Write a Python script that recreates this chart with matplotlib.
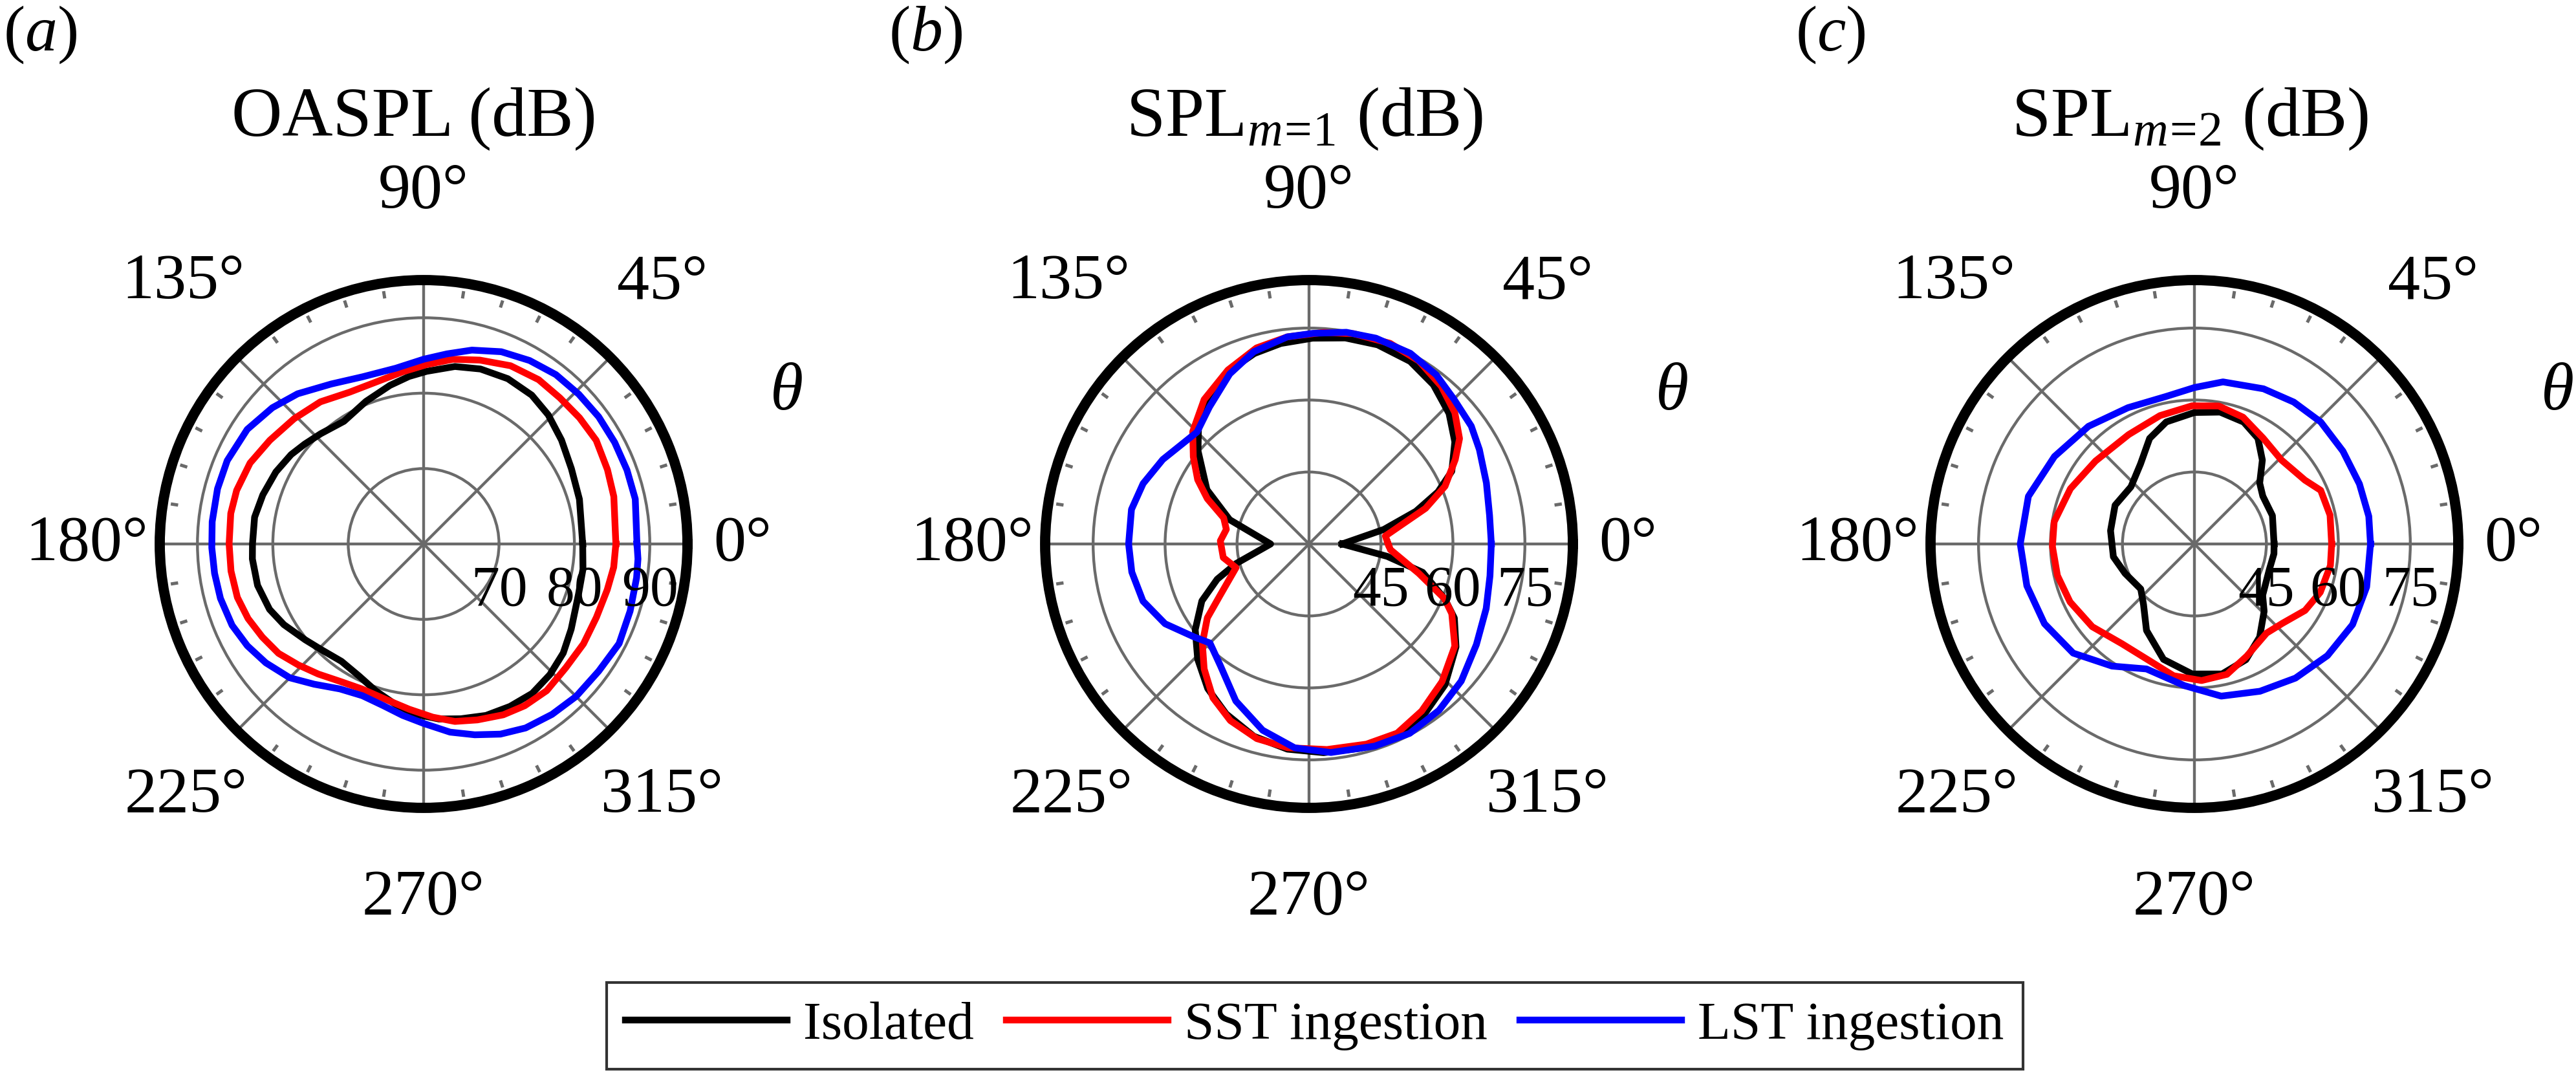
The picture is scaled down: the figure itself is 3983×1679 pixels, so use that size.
import numpy as np
import matplotlib.pyplot as plt

plt.rcParams['font.family'] = ['Liberation Serif', 'DejaVu Serif']
plt.rcParams['mathtext.fontset'] = 'custom'
plt.rcParams['mathtext.rm'] = 'Liberation Serif'
plt.rcParams['mathtext.it'] = 'Liberation Serif:italic'

# ---- (a) OASPL (dB): angle in degrees, level in dB ----
a_iso_th = [0, 16, 27, 37, 46, 54, 63, 72, 80, 89, 95, 102, 112, 123, 133, 140, 146, 154, 163, 171,
            180, 185, 194, 203, 210, 219, 226, 235, 244, 252, 260, 267, 275, 282, 290, 298, 306, 314,
            322, 330, 342, 351]
a_iso_db = [81.1, 81.5, 82.0, 82.9, 83.8, 84.4, 84.6, 84.4, 83.9, 82.9, 82.3, 81.5, 80.4, 79.4, 80.0,
            80.6, 81.2, 81.8, 82.3, 82.7, 82.7, 82.8, 82.7, 82.2, 81.4, 80.2, 79.5, 79.0, 79.5, 80.5,
            81.6, 82.6, 83.3, 83.7, 84.2, 84.4, 84.5, 84.1, 83.5, 82.6, 81.6, 81.4]
a_sst_th = [0, 14, 22, 31, 39, 47, 55, 64, 73, 81, 89, 97, 106, 116, 126, 136, 146, 155, 164, 171,
            180, 188, 196, 203, 210, 217, 224, 231, 239, 247, 256, 265, 273, 280, 287, 295, 302, 310,
            319, 328, 337, 346, 353]
a_sst_db = [85.5, 86.0, 86.3, 86.7, 86.6, 86.5, 86.6, 86.3, 85.5, 84.8, 83.8, 83.0, 82.4, 82.4, 83.3,
            83.9, 84.6, 85.4, 85.8, 85.9, 85.8, 85.8, 85.7, 85.3, 84.7, 84.1, 83.1, 82.2, 81.3, 80.9,
            81.2, 82.0, 83.0, 83.9, 84.4, 85.0, 85.3, 85.4, 85.0, 85.0, 84.9, 85.1, 85.4]
a_lst_th = [0, 12, 20, 28, 36, 44, 52, 60, 68, 76, 83, 90, 99, 110, 120, 130, 138, 147, 157, 165,
            174, 181, 188, 195, 203, 210, 217, 225, 232, 240, 248, 256, 263, 270, 278, 285, 292, 299,
            307, 315, 324, 333, 342, 351, 356]
a_lst_db = [88.3, 88.7, 88.7, 88.7, 88.7, 88.6, 88.5, 88.1, 87.5, 86.5, 85.4, 84.5, 83.6, 83.6, 84.5,
            86.0, 87.0, 87.9, 88.3, 88.3, 88.2, 88.1, 88.0, 87.9, 87.6, 87.0, 86.2, 85.1, 83.6, 82.2,
            81.7, 82.1, 82.9, 83.8, 85.2, 86.2, 87.2, 87.9, 88.3, 88.6, 88.7, 89.1, 88.8, 88.6, 88.5]

# ---- (b) SPL m=1 (dB) ----
b_iso_th = [0, 11, 17, 22, 27, 35, 43, 52, 61, 71, 80, 89, 98, 106, 115, 123, 132, 140, 152, 163,
            180, 195, 201, 208, 217, 226, 235, 244, 254, 264, 274, 284, 294, 304, 314, 325, 333, 338,
            346, 351]
b_iso_db = [36.9, 45.9, 53.3, 59.0, 63.4, 67.1, 69.9, 72.1, 73.5, 73.9, 73.6, 72.9, 72.2, 71.3, 69.7,
            67.5, 64.4, 60.2, 54.1, 47.3, 38.0, 45.7, 50.5, 55.3, 59.7, 63.4, 66.8, 69.4, 71.7, 73.0,
            73.6, 73.9, 74.1, 72.9, 70.8, 67.4, 64.0, 60.5, 54.4, 46.5]
b_sst_th = [0, 6, 17, 23, 30, 35, 42, 50, 59, 68, 78, 86, 96, 105, 115, 126, 136, 143, 150, 156,
            163, 170, 178, 189, 198, 210, 216, 223, 230, 238, 246, 255, 264, 275, 286, 295, 304, 314,
            325, 334, 338, 345, 356]
b_sst_db = [46.5, 46.0, 55.4, 60.8, 65.2, 68.3, 70.9, 72.9, 74.5, 75.1, 74.8, 74.2, 73.4, 72.3, 70.0,
            67.2, 63.7, 60.2, 56.8, 53.2, 48.6, 47.5, 48.5, 48.1, 46.0, 51.4, 56.2, 60.4, 64.0, 67.8,
            70.3, 72.0, 72.7, 73.0, 73.4, 73.5, 72.0, 69.9, 67.1, 63.1, 60.5, 53.7, 47.0]
b_lst_th = [0, 9, 19, 29, 36, 45, 53, 62, 72, 80, 89, 96, 106, 115, 126, 135, 142, 150, 160, 169,
            180, 189, 199, 209, 219, 225, 234, 245, 256, 266, 276, 288, 298, 308, 318, 329, 340, 350]
b_lst_db = [68.0, 68.1, 69.1, 70.6, 71.8, 72.7, 74.1, 75.0, 75.1, 74.8, 73.9, 73.4, 71.7, 69.1, 65.3,
            63.0, 63.7, 65.2, 66.8, 67.7, 67.6, 67.4, 66.6, 64.3, 60.8, 59.2, 61.4, 66.1, 70.0, 72.6,
            73.7, 74.3, 74.7, 74.0, 72.7, 70.7, 69.3, 68.3]

# ---- (c) SPL m=2 (dB) ----
c_iso_th = [0, 20, 35, 43, 51, 59, 68, 79, 90, 103, 113, 124, 138, 154, 171, 189, 203, 220, 230,
            241, 255, 269, 282, 294, 305, 316, 323, 341, 353]
c_iso_db = [46.6, 47.3, 47.4, 48.6, 52.5, 55.7, 57.4, 58.0, 57.4, 56.1, 53.9, 50.1, 47.8, 48.4, 47.7,
            47.1, 45.7, 44.6, 46.5, 50.6, 54.9, 57.1, 57.7, 56.4, 53.7, 50.2, 47.8, 46.5, 46.7]
c_sst_th = [0, 12, 23, 30, 44, 57, 69, 80, 91, 105, 121, 140, 156, 171, 181, 193, 205, 219, 234,
            248, 261, 273, 284, 295, 309, 318, 329, 339, 351]
c_sst_db = [58.6, 58.9, 58.6, 56.6, 55.2, 56.3, 58.3, 59.2, 58.8, 57.7, 56.6, 56.9, 58.3, 59.6, 59.6,
            59.3, 58.6, 57.4, 55.7, 56.0, 57.8, 58.5, 58.0, 55.8, 53.9, 54.7, 56.9, 58.1, 58.7]
c_lst_th = [0, 9, 20, 32, 44, 55, 66, 80, 90, 101, 116, 132, 148, 164, 180, 194, 208, 222, 236,
            249, 266, 280, 294, 307, 320, 333, 346]
c_lst_db = [66.7, 66.8, 66.6, 66.5, 66.6, 66.1, 65.4, 64.3, 62.6, 61.3, 61.6, 63.0, 64.4, 66.0, 66.3,
            66.0, 65.4, 64.0, 60.7, 57.9, 59.6, 62.2, 63.6, 65.0, 66.2, 67.0, 67.0]

panel_tags = ['a', 'b', 'c']
panel_titles = ['OASPL (dB)', r'SPL$_{m\!=\!1}$ (dB)', r'SPL$_{m\!=\!2}$ (dB)']
r_limits = [(60, 95), (30, 85), (30, 85)]
r_ticks = [[70, 80, 90], [45, 60, 75], [45, 60, 75]]
theta_ticks = [0, 45, 90, 135, 180, 225, 270, 315]
series_names = ['Isolated', 'SST ingestion', 'LST ingestion']
series_colors = ['black', 'red', 'blue']
panel_data = [
    [(a_iso_th, a_iso_db), (a_sst_th, a_sst_db), (a_lst_th, a_lst_db)],
    [(b_iso_th, b_iso_db), (b_sst_th, b_sst_db), (b_lst_th, b_lst_db)],
    [(c_iso_th, c_iso_db), (c_sst_th, c_sst_db), (c_lst_th, c_lst_db)],
]

grid_gray = '#6a6a6a'
W, H = 3983, 1679
fig = plt.figure(figsize=(W / 300, H / 300), dpi=300)

centers_x = [655, 2024, 3393]
center_y = 841
R = 408
tag_x = [5, 1374, 2776]
title_x = [640, 2017, 3386]
# centre of each angle label, in units of the outer radius
label_off = {0: (1.21, 0), 45: (0.905, 0.99), 90: (0, 1.335), 135: (-0.91, 0.99),
             180: (-1.277, 0), 225: (-0.90, -0.955), 270: (0, -1.34), 315: (0.905, -0.955)}

handles = []
for i in range(3):
    cx = centers_x[i]
    ax = fig.add_axes([(cx - R) / W, (H - center_y - R) / H, 2 * R / W, 2 * R / H],
                      projection='polar')
    for j, (th, db) in enumerate(panel_data[i]):
        th = np.deg2rad(np.append(th, th[0] + 360))
        db = np.append(db, db[0])
        ln, = ax.plot(th, db, color=series_colors[j], lw=2.5, zorder=3,
                      solid_joinstyle='round', label=series_names[j])
        if i == 0:
            handles.append(ln)

    rmin, rmax = r_limits[i]
    ax.set_ylim(rmin, rmax)
    ax.set_yticks(r_ticks[i])
    ax.set_yticklabels([])
    ax.set_xticks(np.deg2rad(theta_ticks))
    ax.set_xticklabels([])
    ax.tick_params(axis='both', length=0)
    ax.grid(True, color=grid_gray, lw=1.05)
    ax.spines['polar'].set_linewidth(3.8)
    ax.spines['polar'].set_color('black')

    # small inner ticks every 9 deg, set a little inside the rim
    span = rmax - rmin
    for t in range(0, 360, 9):
        if t % 45:
            ax.plot([np.deg2rad(t)] * 2, [rmax - 0.058 * span, rmax - 0.03 * span],
                    color=grid_gray, lw=1.2, solid_capstyle='butt', zorder=2)

    # radial labels just below the 0 deg line
    for r in r_ticks[i]:
        ax.annotate(str(r), xy=(0, r), xytext=(0, -17.5), textcoords='offset points',
                    ha='center', va='center', fontsize=21, zorder=5)

    # angle labels around the circle
    for t in theta_ticks:
        kx, ky = label_off[t]
        ax.text(0.5 + 0.5 * kx, 0.5 + 0.5 * ky, f'{t}°', transform=ax.transAxes,
                ha='center', va='center', fontsize=24)
    ax.text(1.188, 0.786, 'θ', transform=ax.transAxes, ha='center', va='center',
            fontsize=25, style='italic')

    fig.text(title_x[i] / W, (H - 210) / H, panel_titles[i], ha='center', va='baseline',
             fontsize=26)
    fig.text(tag_x[i] / W, (H - 78) / H, '($\\it{' + panel_tags[i] + '}$)', ha='left',
             va='baseline', fontsize=24)

leg = fig.legend(handles, series_names, loc='center', bbox_to_anchor=(2033 / W, 1 - 1586 / H),
                 ncol=3, frameon=True, fancybox=False, edgecolor='black', fontsize=20,
                 handlelength=3.0, columnspacing=0.6, handletextpad=0.3, borderpad=0.35,
                 borderaxespad=0)
leg.get_frame().set_linewidth(1.0)
for ln in leg.get_lines():
    ln.set_linewidth(2.5)

fig.savefig('out.png', dpi=300)
